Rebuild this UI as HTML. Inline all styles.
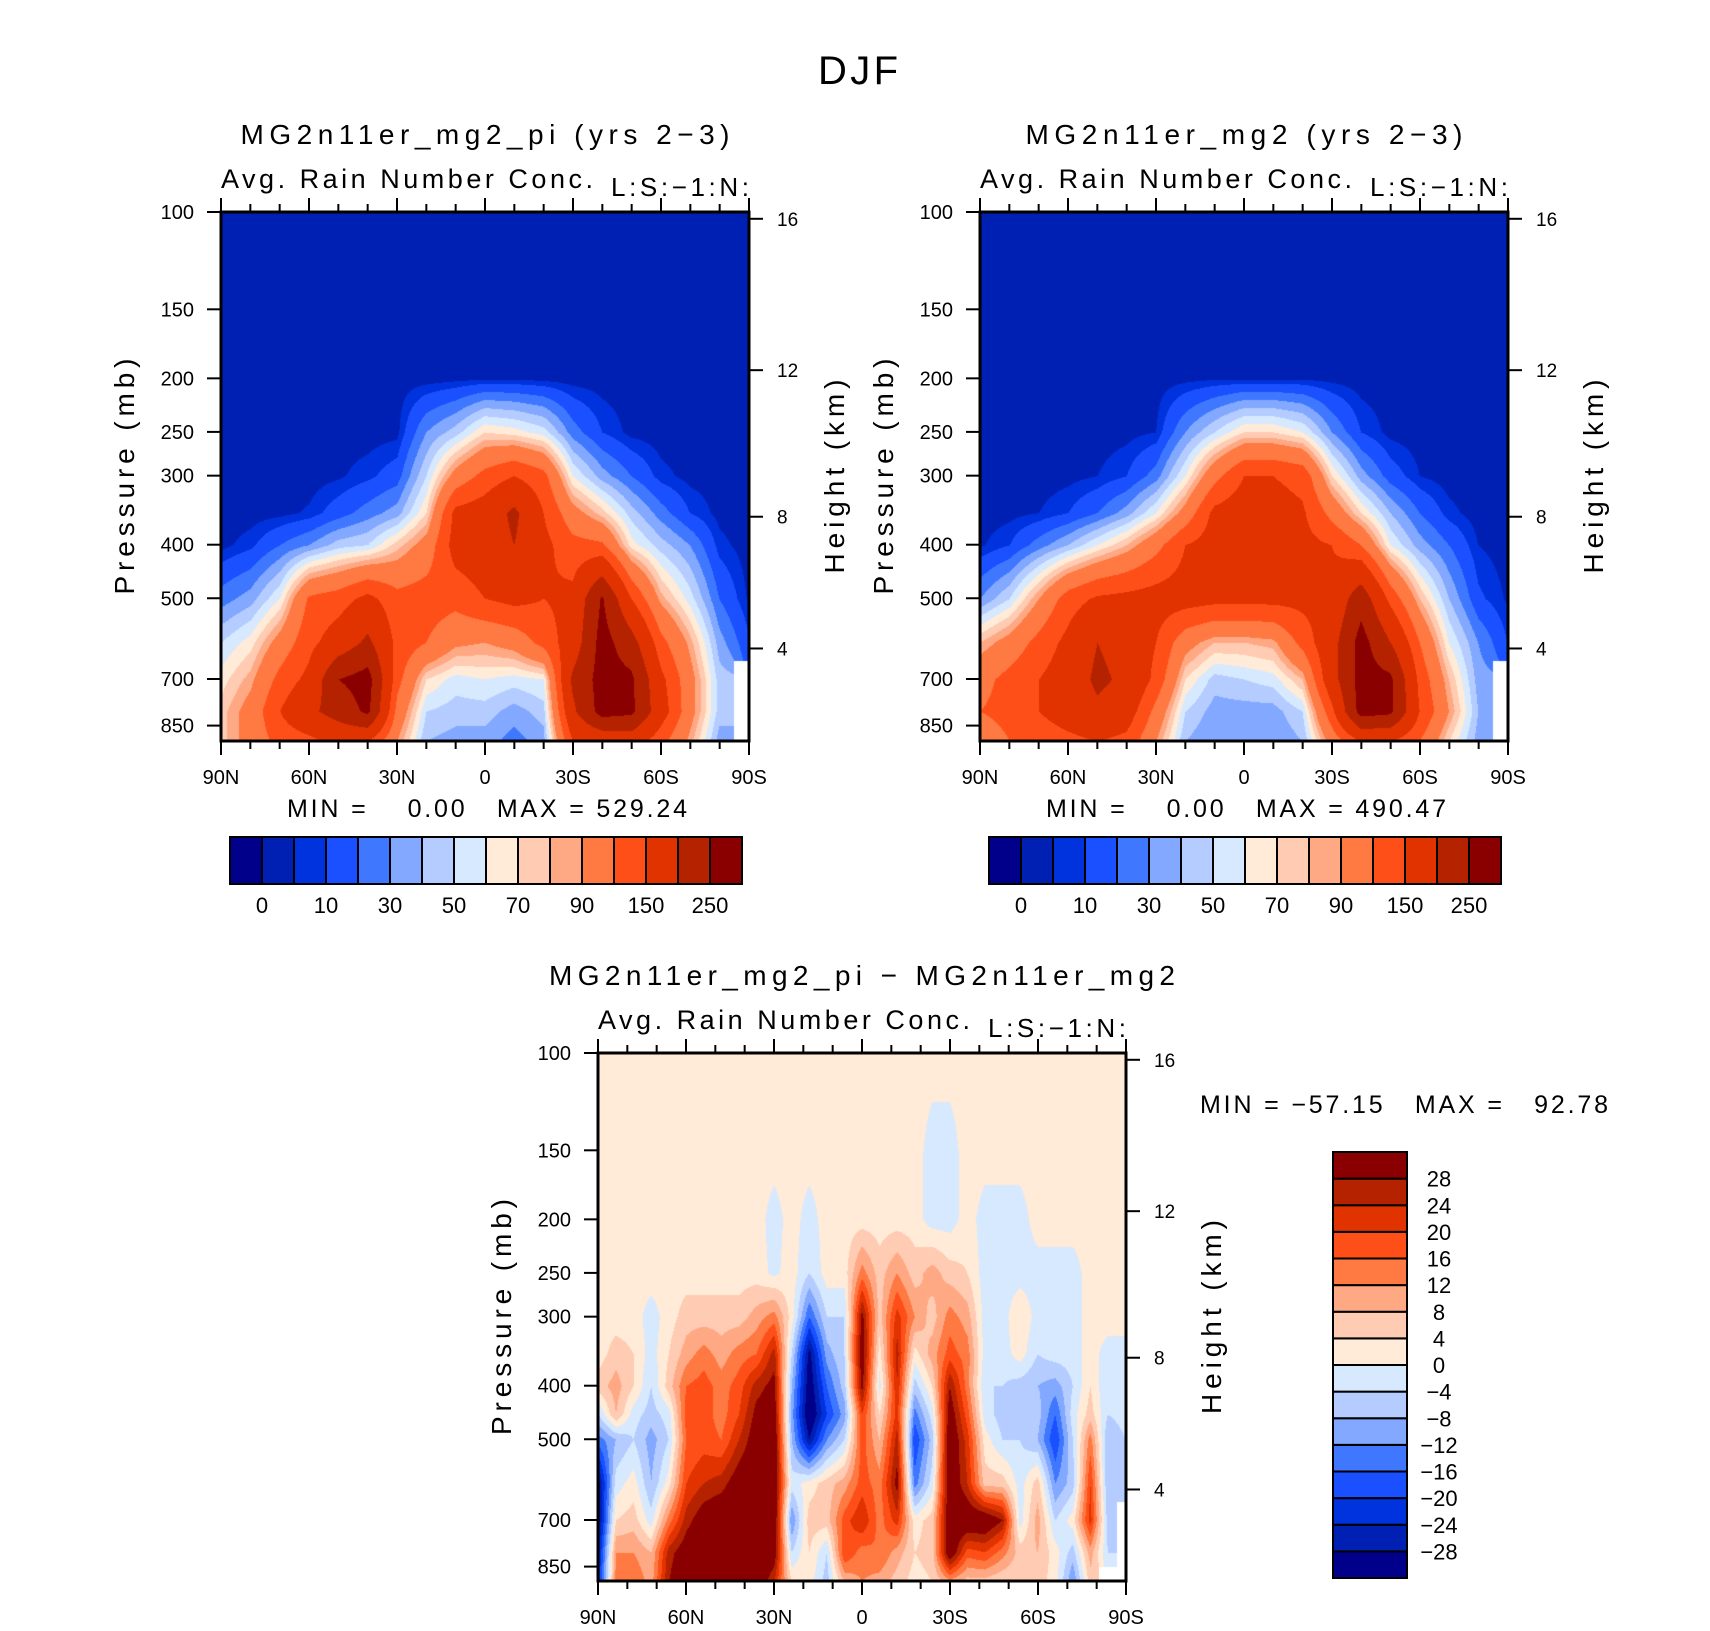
<!DOCTYPE html>
<html><head><meta charset="utf-8"><title>DJF Avg. Rain Number Conc.</title>
<style>
html,body{margin:0;padding:0;background:#fff;}
#wrap{position:relative;width:1710px;height:1631px;overflow:hidden;font-family:"Liberation Sans",sans-serif;}
canvas{position:absolute;}
svg{position:absolute;left:0;top:0;}
</style></head>
<body>
<div id="wrap">
<canvas id="c1" width="528" height="529" style="left:221px;top:212px"></canvas>
<canvas id="c2" width="528" height="529" style="left:980px;top:212px"></canvas>
<canvas id="c3" width="528" height="528" style="left:598px;top:1053px"></canvas>
<svg id="ov" width="1710" height="1631"></svg>
</div>
<script>
// ---------- data ----------
const colorsCB = ["#00008a","#0020b4","#0032dd","#1a50ff","#3f78ff","#82a8ff","#b4ccff","#d7e9ff","#ffebd7","#ffcbb2","#ffa984","#ff7942","#ff4f19","#e03300","#b42200","#8a0000"];
const bounds12 = [0,5,10,20,30,40,50,60,70,80,90,120,150,200,250];
const cbLabels12 = ["0","10","30","50","70","90","150","250"];
const boundsDiff = [-28,-24,-20,-16,-12,-8,-4,0,4,8,12,16,20,24,28];
const pressureTicks = [100,150,200,250,300,400,500,700,850];
const heightTicks = [4,8,12,16];
const latMajor = [90,60,30,0,-30,-60,-90];
const latLabels = ["90N","60N","30N","0","30S","60S","90S"];
const M = null;
const levP12 = [100,150,200,250,300,350,400,500,600,700,800,906];
const fieldPi = [
[2,2,2,2,2,2,2,2,2,2,2,2,2,2,2,2,2,2,2],
[2,2,2,2,2,2,2,2,2,2,2,2,2,2,2,2,2,2,2],
[2,2,2,2,2,2,2,2,3,4,4,3,2,2,2,2,2,2,2],
[2,2,2,2,2,2,3,30,45,70,65,55,25,10,3,2,2,2,2],
[2,2,2,2,4,8,15,50,100,130,150,130,60,35,20,7,3,2,2],
[2,2,3,6,15,25,35,70,160,170,210,150,100,75,45,25,10,3,2],
[3,8,20,30,45,50,75,100,165,175,200,160,130,125,65,45,30,7,2],
[25,35,60,125,135,160,130,135,130,150,160,150,160,255,150,85,55,20,4],
[50,65,100,140,170,210,140,120,95,90,100,130,170,270,220,130,85,35,12],
[65,85,130,160,250,270,130,70,55,60,55,60,210,270,260,160,100,45,M],
[75,100,150,190,220,260,110,50,45,45,35,45,190,270,260,170,100,45,M],
[75,100,130,140,160,150,90,40,35,35,25,35,150,160,170,130,85,35,M]
];
const fieldMg2 = [
[2,2,2,2,2,2,2,2,2,2,2,2,2,2,2,2,2,2,2],
[2,2,2,2,2,2,2,2,2,2,2,2,2,2,2,2,2,2,2],
[2,2,2,2,2,2,2,3,4,4,4,4,3,2,2,2,2,2,2],
[2,2,2,2,2,3,5,30,50,70,70,60,30,10,3,2,2,2,2],
[2,2,2,3,5,10,25,60,110,150,150,140,70,35,15,5,2,2,2],
[2,3,5,10,20,35,60,100,160,170,165,155,110,70,40,20,7,2,2],
[4,10,25,40,60,80,110,150,165,180,165,160,150,120,60,35,20,5,2],
[30,50,90,135,155,160,165,165,160,160,160,160,160,230,140,80,40,12,4],
[80,100,130,160,200,180,150,100,80,80,85,130,180,270,200,120,60,30,10],
[110,130,150,170,210,190,140,70,45,50,55,80,180,270,260,140,80,35,M],
[120,130,150,170,190,170,110,50,35,35,35,50,140,270,260,150,90,40,M],
[100,120,130,140,150,140,90,40,30,30,30,40,100,150,150,120,70,35,M]
];
const levPDiff = [100,150,200,250,300,350,400,450,500,600,700,800,906];
const fieldDiff = [
[2,2,2,2,2,2,2,2,2,2,2,2,2,2,2,2,2,2,2,2,2,2,2,2,2,2,2,2,2,2,2],
[2,2,2,2,2,2,2,2,2,2,2,2,2,2,2,2,2,2,2,-2,-2,2,2,2,2,2,2,2,2,2,2],
[2,2,2,2,2,2,2,2,2,2,-2,2,-2,2,2,2,2,2,2,-2,-2,2,-2,-2,-2,2,2,2,2,2,2],
[2,2,2,2,2,2,2,2,2,2,-1,2,-4,2,2,14,6,12,6,10,6,4,-2,-2,-2,-2,-2,-2,2,2,2],
[2,2,2,-2,2,6,6,6,6,10,14,2,-16,-4,-4,30,6,22,12,6,14,10,-2,-2,4,-2,-2,-2,2,2,2],
[2,6,4,-2,4,10,14,10,14,16,26,-4,-30,-10,-4,32,2,26,2,10,18,14,-2,-2,2,-4,-2,-2,2,-2,-2],
[6,10,4,-4,6,16,18,14,18,26,30,-8,-32,-16,-6,30,-2,24,-6,4,28,14,-4,-4,-6,-8,-10,-4,4,-4,-2],
[-4,8,-2,-6,-2,18,18,14,20,30,32,-10,-34,-20,-10,20,4,22,-14,-2,32,18,-2,-6,-8,-6,-16,-2,6,-4,-2],
[-14,-8,-4,-10,-4,16,18,16,24,32,34,-8,-28,-12,-4,18,8,26,-20,-6,34,22,2,-4,-4,-8,-20,-4,14,-8,-4],
[-30,-2,2,-8,2,20,24,26,32,34,34,-2,2,6,10,18,14,30,-14,-2,34,24,6,6,-2,6,-12,-6,20,-8,-6],
[-30,4,6,-2,14,26,32,34,34,34,34,-12,6,6,18,24,14,22,2,6,34,34,34,28,-2,10,-4,2,22,-6,M],
[-26,12,12,8,26,32,34,34,34,34,32,-4,4,-4,20,14,16,10,4,6,34,18,20,14,6,8,2,-6,10,-4,M],
[-22,14,16,10,28,34,34,34,34,34,24,4,2,-6,8,12,10,6,2,4,10,6,6,4,4,6,2,-12,6,M,M]
];

// ---------- rendering ----------
const DEC = 552.6;
function hexRGB(h){return [parseInt(h.substr(1,2),16),parseInt(h.substr(3,2),16),parseInt(h.substr(5,2),16)];}
const rgbCB = colorsCB.map(hexRGB);
function binOf(v,b){let k=0;for(let i=0;i<b.length;i++){if(v>=b[i])k=i+1;}return k;}
function drawField(id, levP, field, bounds){
  const cv=document.getElementById(id), ctx=cv.getContext('2d');
  const W=cv.width,H=cv.height, img=ctx.createImageData(W,H), d=img.data;
  const ncol=field[0].length, logs=levP.map(p=>Math.log10(p));
  for(let py=0;py<H;py++){
    const L=2+py/DEC;
    let k=0; while(k<logs.length-2 && L>logs[k+1]) k++;
    let ty=(L-logs[k])/(logs[k+1]-logs[k]); ty=Math.max(0,Math.min(1,ty));
    for(let px=0;px<W;px++){
      const fx=px/(W-1)*(ncol-1); let i=Math.min(ncol-2,Math.floor(fx)); const tx=fx-i;
      const near=field[ty<0.5?k:k+1][tx<0.5?i:i+1];
      let o=(py*W+px)*4;
      if(near===null){d[o]=255;d[o+1]=255;d[o+2]=255;d[o+3]=255;continue;}
      const c=[[field[k][i],(1-tx)*(1-ty)],[field[k][i+1],tx*(1-ty)],[field[k+1][i],(1-tx)*ty],[field[k+1][i+1],tx*ty]];
      let s=0,w=0; for(const [v,wt] of c){ if(v!==null){s+=v*wt;w+=wt;} }
      const v=s/w, col=rgbCB[binOf(v,bounds)];
      d[o]=col[0];d[o+1]=col[1];d[o+2]=col[2];d[o+3]=255;
    }
  }
  ctx.putImageData(img,0,0);
}
drawField('c1',levP12,fieldPi,bounds12);
drawField('c2',levP12,fieldMg2,bounds12);
drawField('c3',levPDiff,fieldDiff,boundsDiff);

// ---------- overlay ----------
const NS="http://www.w3.org/2000/svg", ov=document.getElementById('ov');
function mk(tag,attrs,parent){const e=document.createElementNS(NS,tag);for(const k in attrs)e.setAttribute(k,attrs[k]);(parent||ov).appendChild(e);return e;}
function txt(x,y,s,size,anchor,parent,rot,len){const t=mk('text',{x:x,y:y,'font-size':size,'text-anchor':anchor||'middle',fill:'#000','font-family':'Liberation Sans, sans-serif'},parent);if(rot)t.setAttribute('transform','rotate(-90 '+x+' '+y+')');if(len){t.setAttribute('textLength',len);t.setAttribute('lengthAdjust','spacing');}t.textContent=s;return t;}
function heightToP(z){ if(z<=11) return 1013.25*Math.pow(1-0.0065*z*1000/288.15,5.2559); return 226.32*Math.exp(-(z-11)/6.3416); }

const t0=txt(858,84,"DJF",40,'middle',null,false,80);  

function panel(L,T,name,title,titleLen){
  const W=528,H=(T===1053?528:529);
  const g=mk('g',{});
  
  
  const yP=p=>T+Math.log10(p/100)*DEC, xL=l=>L+(90-l)/180*W;
  const tt=txt(L+W/2,T-68,title,28,'middle',g,false,titleLen);
   
  const st=txt(L,T-24,"Avg. Rain Number Conc.",27,'start',g,false,372);
   
  const ls=txt(L+W-138,T-16,"L:S:\u22121:N:",26,'start',g,false,138);
   
  for(let l=90;l>=-90;l-=10){
    const x=xL(l), maj=(l%30===0);
    const len=maj?14:8;
    mk('line',{x1:x,y1:T,x2:x,y2:T-len,stroke:'#000','stroke-width':2},g);
    mk('line',{x1:x,y1:T+H,x2:x,y2:T+H+len,stroke:'#000','stroke-width':2},g);
  }
  latMajor.forEach((l,i)=>{const e=txt(xL(l),T+H+43,latLabels[i],20,'middle',g);
     });
  pressureTicks.forEach(p=>{const y=yP(p);
    mk('line',{x1:L-14,y1:y,x2:L,y2:y,stroke:'#000','stroke-width':2},g);
    const e=txt(L-27,y+7,String(p),20,'end',g);
     });
  heightTicks.forEach(z=>{const y=yP(heightToP(z));
    mk('line',{x1:L+W,y1:y,x2:L+W+14,y2:y,stroke:'#000','stroke-width':2},g);
    const e=txt(L+W+28,y+7,String(z),19,'start',g);
     });
  mk('rect',{x:L,y:T,width:W,height:H,fill:'none',stroke:'#000','stroke-width':3},g);
  const yl=txt(L-87,T+H/2,"Pressure (mb)",28,'middle',g,true,236);
   
  const hl=txt(L+W+95,T+H/2,"Height (km)",28,'middle',g,true,194);
   
  return g;
}
panel(221,212,'panel-pi',"MG2n11er_mg2_pi (yrs 2\u22123)",489);
panel(980,212,'panel-mg2',"MG2n11er_mg2 (yrs 2\u22123)",437);
panel(598,1053,'panel-difference',"MG2n11er_mg2_pi \u2212 MG2n11er_mg2",626);

function minmax(x,y,s,len){const e=txt(x,y,s,25,'start',null,false,len);e.setAttribute('xml:space','preserve');e.style.whiteSpace='pre';
   }
minmax(287,817,"MIN =    0.00   MAX = 529.24",400);
minmax(1046,817,"MIN =    0.00   MAX = 490.47",400);
minmax(1200,1113,"MIN = \u221257.15   MAX =   92.78",408);

function hbar(L,name){
  const g=mk('g',{});  
  const W=512,T=837,H=47,bw=W/16;
  colorsCB.forEach((c,i)=>{const r=mk('rect',{x:L+i*bw,y:T,width:bw,height:H,fill:c,stroke:'#000','stroke-width':2},g);
     });
  cbLabels12.forEach((s,j)=>{const e=txt(L+bw*(2*j+1),T+76,s,22,'middle',g);
     });
}
hbar(230,'colorbar-pi'); hbar(989,'colorbar-mg2');

(function(){
  const g=mk('g',{});  
  const L=1333,T=1152,W=74,H=426,bh=H/16;
  colorsCB.forEach((c,i)=>{const r=mk('rect',{x:L,y:T+H-(i+1)*bh,width:W,height:bh,fill:c,stroke:'#000','stroke-width':2},g);
     });
  boundsDiff.forEach((b,i)=>{const y=T+H-(i+1)*bh;
    const e=txt(1439,y+8,(b<0?"\u2212":"")+Math.abs(b),22,'middle',g);
     });
})();
</script>
</body></html>
